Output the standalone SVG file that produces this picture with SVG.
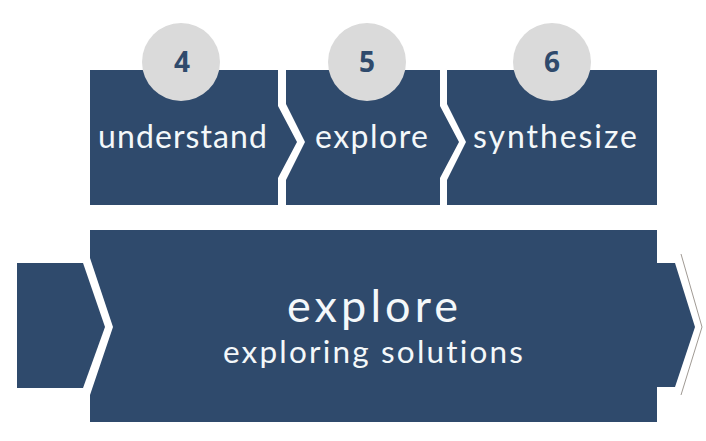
<svg xmlns="http://www.w3.org/2000/svg" width="706" height="441" viewBox="0 0 706 441">
<style>
.box{fill:#2f4a6c}
.circ{fill:#dadada}
.num{font-family:"Open Sans","Liberation Sans",sans-serif;font-weight:bold;font-size:28px;fill:#2f4a6c;text-anchor:middle}
.lbl{font-family:Lato,"Open Sans","Liberation Sans",sans-serif;fill:#f4f8fa;font-variant-ligatures:none;font-feature-settings:"liga" 0}
</style>
<rect width="706" height="441" fill="#ffffff"/>
<g id="step4">
<polygon class="box" points="90,70 278,70 278,106 297,142 278,178 278,205 90,205"/>
<circle class="circ" cx="181" cy="62" r="39"/>
<text class="num" x="182" y="72">4</text>
<text class="lbl" x="98" y="148" font-size="32" textLength="169" lengthAdjust="spacing">understand</text>
</g>
<g id="step5">
<polygon class="box" points="286,70 440,70 440,106 459,142 440,178 440,205 286,205 286,180 305,142 286,104"/>
<circle class="circ" cx="367" cy="62" r="39"/>
<text class="num" x="367" y="72">5</text>
<text class="lbl" x="315" y="148" font-size="32" textLength="113" lengthAdjust="spacing">explore</text>
</g>
<g id="step6">
<polygon class="box" points="447,70 657,70 657,205 447,205 447,180 466,142 447,104"/>
<circle class="circ" cx="552" cy="62" r="39"/>
<text class="num" x="552" y="72">6</text>
<text class="lbl" x="473" y="148" font-size="32" textLength="164" lengthAdjust="spacing">synthesize</text>
</g>
<g id="prev">
<polygon class="box" points="17,263 83,263 105,327 83,388 17,388"/>
</g>
<g id="explore-phase">
<polygon class="box" points="90,230 657,230 657,263 675,263 695,327 675,387 657,387 657,422 90,422 90,395 113,327 90,258"/>
<text class="lbl" x="287" y="322" font-size="45" textLength="171" lengthAdjust="spacing">explore</text>
<text class="lbl" x="223" y="363" font-size="31.5" textLength="300" lengthAdjust="spacing">exploring solutions</text>
</g>
<g id="connectors">
<polyline points="681,254 702,327 681,395" fill="none" stroke="#a09a94" stroke-width="1"/>
</g>
</svg>
